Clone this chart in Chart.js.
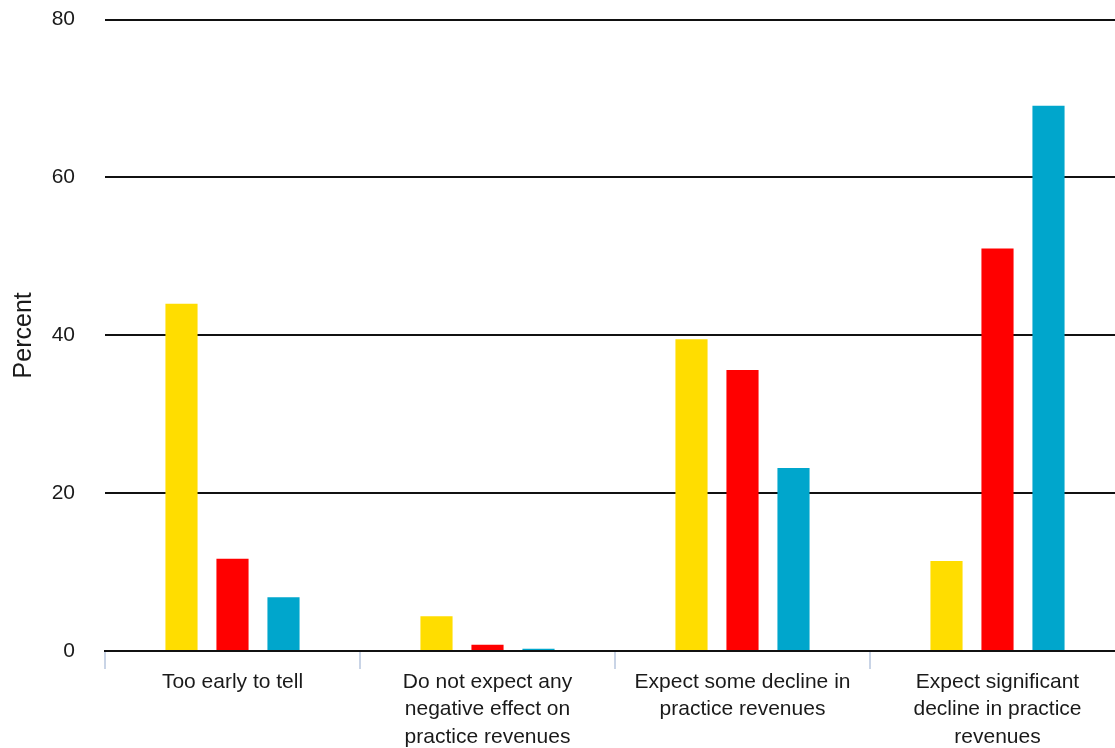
<!DOCTYPE html>
<html>
<head>
<meta charset="utf-8">
<script src="https://cdn.jsdelivr.net/npm/chart.js@4"></script>
<style>
  html, body { margin: 0; padding: 0; background: #fff; overflow: hidden; }
  #wrap { width: 1115px; height: 748px; overflow: hidden; position: relative; }
  #chart { position: absolute; left: 0; top: -23px; }
</style>
</head>
<body>
<div id="wrap"><canvas id="chart" width="1125" height="771"></canvas></div>
<script>
var categories = [
    'Too early to tell',
    ['Do not expect any', 'negative effect on', 'practice revenues'],
    ['Expect some decline in', 'practice revenues'],
    ['Expect significant', 'decline in practice', 'revenues']
];
var seriesYellow = [44.0, 4.4, 39.5, 11.4];
var seriesRed = [11.7, 0.8, 35.6, 51.0];
var seriesTeal = [6.8, 0.3, 23.2, 69.1];
var yTicks = [0, 20, 40, 60, 80];

var font = "'Liberation Sans', Arial, Helvetica, sans-serif";

var chart = new Chart(document.getElementById('chart'), {
    type: 'bar',
    data: {
        labels: categories,
        datasets: [
            { data: seriesYellow, backgroundColor: '#ffdd00' },
            { data: seriesRed, backgroundColor: '#ff0000' },
            { data: seriesTeal, backgroundColor: '#00a6cc' }
        ]
    },
    options: {
        responsive: false,
        animation: false,
        layout: { padding: { top: 10, right: 0, bottom: 0, left: 0 } },
        datasets: {
            bar: { categoryPercentage: 0.6, barPercentage: 0.63 }
        },
        plugins: {
            legend: { display: false },
            tooltip: { enabled: false }
        },
        scales: {
            x: {
                grid: {
                    offset: true,
                    drawOnChartArea: false,
                    color: '#c9d4e6',
                    lineWidth: 2,
                    tickLength: 18
                },
                border: { display: true, color: '#111', width: 2 },
                ticks: {
                    color: '#1a1a1a',
                    padding: 0,
                    maxRotation: 0,
                    autoSkip: false,
                    font: { family: font, size: 21, lineHeight: 1.29 }
                },
                afterFit: function(scale) { scale.height = 97; }
            },
            y: {
                min: 0,
                max: 80,
                afterBuildTicks: function(scale) {
                    scale.ticks = yTicks.map(function(v) { return { value: v }; });
                },
                grid: {
                    color: '#111',
                    lineWidth: 2,
                    drawTicks: false
                },
                border: { display: false },
                ticks: {
                    color: '#1a1a1a',
                    padding: 30,
                    font: { family: font, size: 21 }
                },
                title: {
                    display: true,
                    text: 'Percent',
                    color: '#1a1a1a',
                    padding: { top: 9, bottom: 0 },
                    font: { family: font, size: 25 }
                },
                afterFit: function(scale) { scale.width = 105; }
            }
        }
    }
});
</script>
</body>
</html>
